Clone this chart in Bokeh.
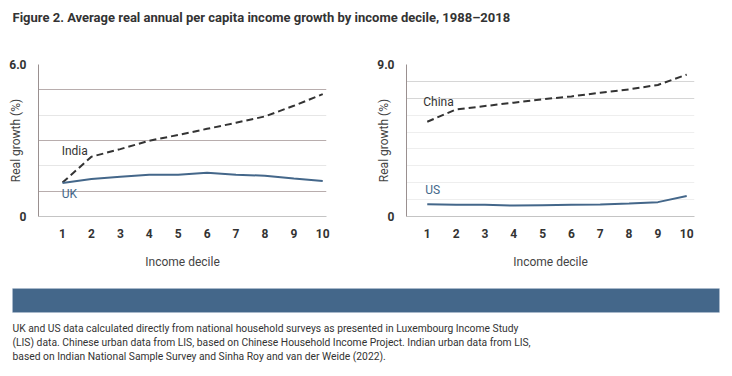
from bokeh.plotting import figure
from bokeh.layouts import column, row
from bokeh.models import Range1d, FixedTicker, Label, BoxAnnotation, Grid
from bokeh.embed import file_html
from bokeh.resources import INLINE

# ---- data ----
deciles = [1, 2, 3, 4, 5, 6, 7, 8, 9, 10]
india = [1.34, 2.36, 2.66, 2.99, 3.22, 3.46, 3.70, 3.95, 4.37, 4.83]
uk = [1.32, 1.48, 1.57, 1.65, 1.65, 1.73, 1.65, 1.61, 1.50, 1.40]
china = [5.61, 6.34, 6.54, 6.74, 6.94, 7.11, 7.33, 7.53, 7.79, 8.40]
us = [0.73, 0.69, 0.69, 0.65, 0.67, 0.69, 0.71, 0.77, 0.85, 1.21]

title_text = "Figure 2. Average real annual per capita income growth by income decile, 1988\u20132018"
y_label = "Real growth (%)"
x_label = "Income decile"
footnote = [
    "UK and US data calculated directly from national household surveys as presented in Luxembourg Income Study",
    "(LIS) data. Chinese urban data from LIS, based on Chinese Household Income Project. Indian urban data from LIS,",
    "based on Indian National Sample Survey and Sinha Roy and van der Weide (2022).",
]

DARK = "#333333"
BLUE = "#44678a"
FONT = "Roboto"


def blank(w, h):
    f = figure(width=w, height=h, output_backend="svg", toolbar_location=None,
               x_range=Range1d(0, w), y_range=Range1d(0, h),
               min_border=0, outline_line_color=None)
    f.axis.visible = False
    f.grid.visible = False
    return f


def panel(w, ymax, ytick_label, left_border, right_border, xr, grid_dark, grid_light,
          dark_col, light_col, series_dashed, series_solid, name_dashed, name_solid,
          pos_dashed, pos_solid):
    p = figure(width=w, height=240, output_backend="svg", toolbar_location=None,
               x_range=Range1d(*xr), y_range=Range1d(0, ymax),
               min_border_left=left_border, min_border_right=right_border,
               min_border_top=24, min_border_bottom=64, outline_line_color=None)
    p.grid.visible = False
    p.add_layout(Grid(dimension=1, ticker=FixedTicker(ticks=grid_light),
                      grid_line_color=light_col, grid_line_width=1.2))
    p.add_layout(Grid(dimension=1, ticker=FixedTicker(ticks=grid_dark),
                      grid_line_color=dark_col, grid_line_width=1.2))
    # axes
    p.xaxis.ticker = FixedTicker(ticks=deciles)
    p.yaxis.ticker = FixedTicker(ticks=[0, ymax])
    p.yaxis.major_label_overrides = {0: "0", ymax: ytick_label}
    for ax in (p.xaxis[0], p.yaxis[0]):
        ax.major_tick_line_color = None
        ax.minor_tick_line_color = None
        ax.major_label_text_font = FONT
        ax.major_label_text_font_style = "bold"
        ax.major_label_text_font_size = "12px"
        ax.major_label_text_color = DARK
        ax.axis_label_text_font = FONT
        ax.axis_label_text_font_style = "normal"
        ax.axis_label_text_font_size = "12px"
        ax.axis_label_text_color = "#444444"
    p.yaxis.axis_line_color = "#9a9090"
    p.yaxis.major_label_standoff = 6
    p.yaxis.axis_label = y_label
    p.yaxis.axis_label_standoff = -17
    p.xaxis.axis_line_color = "#c4c4c4"
    p.xaxis.major_label_standoff = 6
    p.xaxis.axis_label = x_label
    p.xaxis.axis_label_standoff = 14
    p.line(deciles, series_dashed, line_color=DARK, line_width=2, line_dash="7 4")
    p.line(deciles, series_solid, line_color=BLUE, line_width=2)
    p.add_layout(Label(x=pos_dashed[0], y=pos_dashed[1], text=name_dashed,
                       text_font=FONT, text_font_size="12px", text_color=DARK,
                       text_baseline="middle"))
    p.add_layout(Label(x=pos_solid[0], y=pos_solid[1], text=name_solid,
                       text_font=FONT, text_font_size="12px", text_color=BLUE,
                       text_baseline="middle"))
    return p


left = panel(370, 6, "6.0", 38, 44, (0.17, 10.13), [1, 3, 5], [2, 4, 6],
             "#b8adad", "#e6e6e6", india, uk, "India", "UK",
             (0.97, 2.6), (0.97, 0.9))
right = panel(362, 9, "9.0", 36, 38, (0.28, 10.27), [7, 8, 9], [1, 2, 3, 4, 5, 6],
              "#d6d6d6", "#eeeeee", china, us, "China", "US",
              (0.86, 6.8), (0.93, 1.54))

top = blank(732, 40)
top.add_layout(Label(x=12, y=23, x_units="screen", y_units="screen", text=title_text,
                     text_font=FONT, text_font_style="bold", text_font_size="13px",
                     text_color=DARK, text_baseline="middle"))

bottom = blank(732, 96)
bottom.add_layout(BoxAnnotation(left=12, right=719, bottom=64, top=88,
                                left_units="screen", right_units="screen",
                                bottom_units="screen", top_units="screen",
                                fill_color=BLUE, fill_alpha=1.0, line_color="#b8c8d8",
                                line_width=1))
for i, line in enumerate(footnote):
    bottom.add_layout(Label(x=12, y=48 - 14 * i, x_units="screen", y_units="screen",
                            text=line, text_font=FONT, text_font_size="10.3px",
                            text_color=DARK, text_baseline="middle"))

layout = column(top, row(left, right), bottom)
open("out.html", "w").write(file_html(layout, INLINE))
